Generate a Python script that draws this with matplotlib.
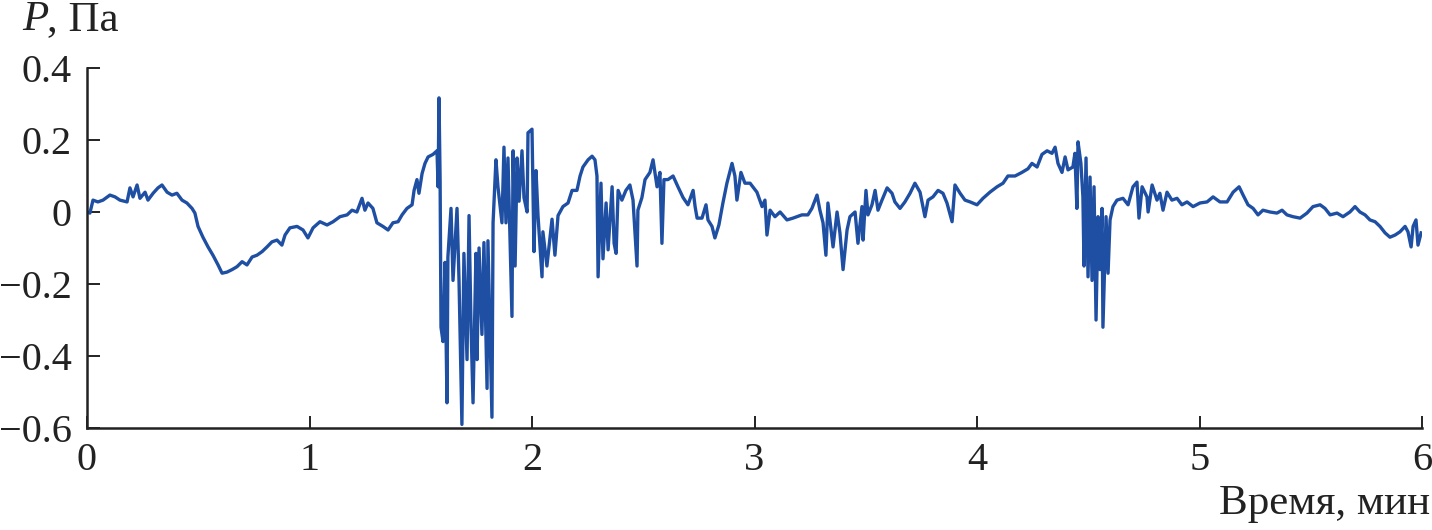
import matplotlib
matplotlib.use("Agg")
import matplotlib.pyplot as plt
from matplotlib.ticker import FuncFormatter

# --- data (time in minutes, pressure in Pa) ---
t_min = [
    0.000, 0.013, 0.027, 0.049, 0.072, 0.103, 0.126, 0.148, 0.180, 0.193,
    0.207, 0.225, 0.238, 0.261, 0.274, 0.297, 0.319, 0.337, 0.360, 0.382,
    0.404, 0.427, 0.449, 0.472, 0.485, 0.499, 0.521, 0.544, 0.566, 0.589,
    0.607, 0.629, 0.652, 0.674, 0.697, 0.719, 0.742, 0.764, 0.787, 0.809,
    0.831, 0.854, 0.876, 0.890, 0.912, 0.944, 0.971, 0.993, 1.016, 1.047,
    1.079, 1.106, 1.137, 1.169, 1.191, 1.213, 1.236, 1.249, 1.263, 1.285,
    1.303, 1.330, 1.353, 1.375, 1.398, 1.416, 1.438, 1.461, 1.470, 1.483,
    1.492, 1.506, 1.519, 1.533, 1.555, 1.573, 1.578, 1.582, 1.587, 1.591,
    1.600, 1.609, 1.618, 1.622, 1.636, 1.645, 1.663, 1.672, 1.685, 1.694,
    1.708, 1.717, 1.726, 1.735, 1.748, 1.753, 1.762, 1.775, 1.784, 1.798,
    1.802, 1.820, 1.825, 1.838, 1.847, 1.865, 1.874, 1.883, 1.892, 1.910,
    1.915, 1.924, 1.933, 1.942, 1.955, 1.964, 1.978, 1.982, 2.000, 2.009,
    2.018, 2.027, 2.045, 2.049, 2.067, 2.090, 2.103, 2.117, 2.139, 2.162,
    2.180, 2.202, 2.216, 2.229, 2.252, 2.270, 2.283, 2.292, 2.297, 2.310,
    2.319, 2.333, 2.342, 2.360, 2.369, 2.378, 2.387, 2.404, 2.422, 2.440,
    2.454, 2.472, 2.476, 2.494, 2.508, 2.530, 2.544, 2.562, 2.575, 2.584,
    2.593, 2.611, 2.634, 2.656, 2.679, 2.701, 2.724, 2.733, 2.742, 2.764,
    2.782, 2.791, 2.809, 2.822, 2.840, 2.858, 2.876, 2.899, 2.912, 2.921,
    2.939, 2.957, 2.980, 3.011, 3.034, 3.047, 3.056, 3.070, 3.092, 3.115,
    3.146, 3.173, 3.213, 3.240, 3.258, 3.281, 3.294, 3.308, 3.321, 3.330,
    3.348, 3.353, 3.371, 3.384, 3.398, 3.416, 3.429, 3.452, 3.465, 3.483,
    3.488, 3.501, 3.510, 3.528, 3.542, 3.555, 3.573, 3.596, 3.618, 3.631,
    3.654, 3.676, 3.699, 3.721, 3.744, 3.766, 3.780, 3.802, 3.825, 3.847,
    3.865, 3.888, 3.901, 3.924, 3.946, 3.969, 4.000, 4.027, 4.058, 4.090,
    4.117, 4.139, 4.171, 4.202, 4.229, 4.247, 4.270, 4.292, 4.315, 4.337,
    4.351, 4.364, 4.382, 4.396, 4.409, 4.431, 4.440, 4.449, 4.454, 4.467,
    4.476, 4.481, 4.490, 4.499, 4.508, 4.517, 4.526, 4.535, 4.544, 4.553,
    4.562, 4.566, 4.580, 4.589, 4.598, 4.611, 4.629, 4.656, 4.679, 4.701,
    4.719, 4.728, 4.742, 4.764, 4.769, 4.787, 4.809, 4.822, 4.836, 4.854,
    4.876, 4.899, 4.921, 4.944, 4.971, 5.002, 5.034, 5.061, 5.092, 5.124,
    5.151, 5.178, 5.196, 5.218, 5.241, 5.263, 5.285, 5.317, 5.348, 5.371,
    5.393, 5.420, 5.452, 5.483, 5.510, 5.542, 5.564, 5.587, 5.618, 5.645,
    5.676, 5.699, 5.721, 5.744, 5.766, 5.789, 5.811, 5.834, 5.856, 5.879,
    5.901, 5.924, 5.937, 5.951, 5.960, 5.973, 5.982, 5.996,
]
p_pa = [
    0.000, -0.003, 0.033, 0.028, 0.033, 0.047, 0.042, 0.033, 0.028, 0.067,
    0.042, 0.075, 0.038, 0.055, 0.033, 0.052, 0.067, 0.075, 0.055, 0.047,
    0.052, 0.033, 0.025, 0.010, -0.003, -0.040, -0.070, -0.097, -0.120, -0.147,
    -0.170, -0.167, -0.160, -0.152, -0.138, -0.147, -0.125, -0.120, -0.110, -0.097,
    -0.083, -0.078, -0.092, -0.064, -0.044, -0.040, -0.050, -0.072, -0.044, -0.027,
    -0.036, -0.027, -0.013, -0.008, 0.005, 0.000, 0.038, 0.005, 0.025, 0.010,
    -0.030, -0.040, -0.050, -0.030, -0.027, -0.008, 0.010, 0.020, 0.060, 0.090,
    0.052, 0.107, 0.135, 0.153, 0.160, 0.170, 0.070, 0.317, 0.090, -0.320,
    -0.360, -0.140, -0.530, -0.125, 0.010, -0.190, 0.010, -0.190, -0.590, -0.115,
    -0.410, -0.010, -0.320, -0.530, -0.115, -0.410, -0.100, -0.340, -0.085, -0.490,
    -0.080, -0.570, -0.030, 0.145, 0.070, -0.030, 0.180, -0.030, 0.150, -0.290,
    0.170, -0.150, 0.150, 0.030, 0.170, 0.040, 0.000, 0.220, 0.230, -0.110,
    0.115, -0.010, -0.180, -0.055, -0.150, -0.020, -0.120, -0.010, 0.015, 0.025,
    0.060, 0.060, 0.100, 0.125, 0.145, 0.155, 0.145, 0.100, -0.180, 0.080,
    -0.130, 0.025, -0.105, 0.070, -0.087, -0.115, 0.060, 0.033, 0.060, 0.075,
    0.033, -0.150, 0.005, 0.040, 0.090, 0.110, 0.145, 0.070, 0.110, -0.087,
    0.090, 0.090, 0.100, 0.070, 0.040, 0.020, 0.060, 0.015, -0.017, -0.017,
    0.020, -0.022, -0.040, -0.072, -0.036, 0.025, 0.080, 0.135, 0.100, 0.033,
    0.110, 0.080, 0.080, 0.055, 0.015, 0.033, -0.064, 0.005, -0.013, 0.000,
    -0.022, -0.017, -0.008, -0.008, 0.010, 0.047, 0.005, -0.030, -0.120, 0.025,
    -0.070, -0.097, 0.000, -0.058, -0.160, -0.050, -0.013, 0.000, -0.087, 0.015,
    -0.078, 0.060, -0.008, 0.020, 0.060, 0.005, 0.033, 0.067, 0.052, 0.028,
    0.010, 0.028, 0.052, 0.080, 0.055, -0.013, 0.033, 0.042, 0.060, 0.052,
    0.025, -0.027, 0.075, 0.052, 0.033, 0.028, 0.020, 0.038, 0.055, 0.070,
    0.080, 0.100, 0.100, 0.110, 0.120, 0.135, 0.125, 0.160, 0.170, 0.163,
    0.180, 0.135, 0.110, 0.153, 0.117, 0.125, 0.163, 0.010, 0.195, 0.135,
    0.042, -0.150, 0.150, -0.180, 0.097, -0.190, 0.070, -0.300, -0.013, -0.160,
    0.010, -0.320, -0.013, -0.170, -0.022, 0.015, 0.033, 0.038, 0.020, 0.070,
    0.083, -0.017, 0.070, 0.042, 0.000, 0.075, 0.033, 0.052, 0.005, 0.055,
    0.033, 0.038, 0.020, 0.028, 0.015, 0.025, 0.028, 0.042, 0.028, 0.028,
    0.055, 0.070, 0.047, 0.020, 0.010, -0.008, 0.005, 0.000, -0.003, 0.005,
    -0.008, -0.013, -0.017, -0.003, 0.015, 0.020, 0.010, -0.008, -0.003, -0.013,
    0.000, 0.015, 0.000, -0.008, -0.022, -0.027, -0.040, -0.058, -0.070, -0.064,
    -0.055, -0.040, -0.055, -0.097, -0.040, -0.022, -0.092, -0.058,
]
x_ticks = [0, 1, 2, 3, 4, 5, 6]
y_ticks = [-0.6, -0.4, -0.2, 0.0, 0.2, 0.4]

plt.rcParams['font.family'] = ['Liberation Serif', 'DejaVu Serif']
FS = 29        # tick labels
FS_LAB = 31    # axis captions

fig = plt.figure(figsize=(14.32, 5.30), dpi=100)
ax = fig.add_axes([87 / 1432, 1 - 428 / 530, (1422 - 87) / 1432, (428 - 68) / 530])

ax.plot(t_min, p_pa, color='#1f4fa3', lw=2.4)

ax.set_xlim(0, 6)
ax.set_ylim(-0.6, 0.4)
ax.set_xticks(x_ticks)
ax.set_yticks(y_ticks)
ax.yaxis.set_major_formatter(FuncFormatter(lambda v, _: '0' if abs(v) < 1e-9 else f'{v:.1f}'.replace('-', '\u2212')))

for side in ('top', 'right'):
    ax.spines[side].set_visible(False)
for side in ('left', 'bottom'):
    ax.spines[side].set_linewidth(1.8)
    ax.spines[side].set_color('#222222')

ax.tick_params(direction='in', length=9, width=1.4, color='#222222', labelsize=FS, labelcolor='#222222')
ax.tick_params(axis='y', pad=11)
ax.tick_params(axis='x', pad=10)

# axis captions placed like in the journal figure
fig.text(22 / 1432, 1 - 20 / 530, 'P', fontsize=FS_LAB, style='italic', va='center', ha='left', color='#222222')
fig.text(47 / 1432, 1 - 20 / 530, ', Па', fontsize=FS_LAB, va='center', ha='left', color='#222222')
fig.text(1430 / 1432, 1 - 504 / 530, 'Время, мин', fontsize=FS_LAB, va='center', ha='right', color='#222222')

fig.savefig('out.png', dpi=100)
